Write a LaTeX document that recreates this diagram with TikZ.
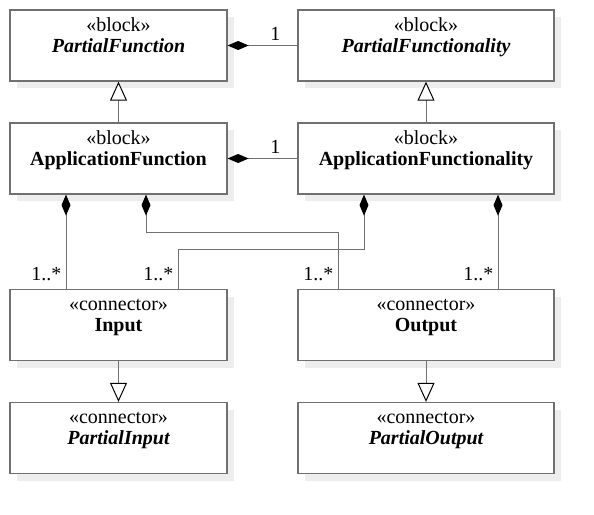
\documentclass[tikz,border=0pt]{standalone}
\usepackage{fontspec}
\setmainfont{Liberation Serif}
\usepackage{tikz}
\usetikzlibrary{arrows.meta,shadows,positioning}
\usepackage{xcolor}
\definecolor{linegray}{rgb}{0.44, 0.44, 0.44}
\definecolor{shadowgray}{rgb}{0.93, 0.93, 0.93}

\begin{document}
\begin{tikzpicture}[x=1pt,y=1pt]
	% Fix the canvas.
	\useasboundingbox (0,0) rectangle (594,-514);

	\tikzstyle{block}=[draw=linegray,line width=1.3pt,fill=white,inner sep=0,minimum height=71pt,
		drop shadow={shadow xshift=7pt,shadow yshift=-7pt,fill=shadowgray,opacity=1}]
	\tikzstyle{stereo}=[anchor=base,inner sep=0,font=\fontsize{20}{22}\selectfont]
	\tikzstyle{title}=[anchor=base,inner sep=0,font=\fontsize{20}{22}\selectfont\bfseries]
	\tikzstyle{mult}=[anchor=base,inner sep=0,font=\fontsize{20}{22}\selectfont]
	\tikzstyle{comp}=[draw=linegray,line width=1pt,-{Diamond[length=21pt,width=9pt,color=black]}]
	\tikzstyle{gen}=[draw=linegray,line width=1pt,-{Triangle[open,length=19pt,width=17pt,color=black,fill=white]}]

	% Draw the blocks.
	\node (pfun) [block, minimum width=217pt] at (118.5,-45.5) {};
	\node (pfun-s) [stereo] at ([yshift=-22pt]pfun.north) {«block»};
	\node (pfun-n) [title] at ([yshift=-43pt]pfun.north) {\itshape PartialFunction};

	\node (pfny) [block, minimum width=256pt] at (426,-45.5) {};
	\node (pfny-s) [stereo] at ([yshift=-22pt]pfny.north) {«block»};
	\node (pfny-n) [title] at ([yshift=-43pt]pfny.north) {\itshape PartialFunctionality};

	\node (afun) [block, minimum width=217pt] at (118.5,-158.5) {};
	\node (afun-s) [stereo] at ([yshift=-22pt]afun.north) {«block»};
	\node (afun-n) [title] at ([yshift=-43pt]afun.north) {ApplicationFunction};

	\node (afny) [block, minimum width=256pt] at (426,-158.5) {};
	\node (afny-s) [stereo] at ([yshift=-22pt]afny.north) {«block»};
	\node (afny-n) [title] at ([yshift=-43pt]afny.north) {ApplicationFunctionality};

	% Draw the connectors.
	\node (inp) [block, minimum width=217pt] at (118.5,-325) {};
	\node (inp-s) [stereo] at ([yshift=-22pt]inp.north) {«connector»};
	\node (inp-n) [title] at ([yshift=-43pt]inp.north) {Input};

	\node (outp) [block, minimum width=256pt] at (426,-325) {};
	\node (outp-s) [stereo] at ([yshift=-22pt]outp.north) {«connector»};
	\node (outp-n) [title] at ([yshift=-43pt]outp.north) {Output};

	\node (pinp) [block, minimum width=217pt] at (118.5,-438) {};
	\node (pinp-s) [stereo] at ([yshift=-22pt]pinp.north) {«connector»};
	\node (pinp-n) [title] at ([yshift=-43pt]pinp.north) {\itshape PartialInput};

	\node (poutp) [block, minimum width=256pt] at (426,-438) {};
	\node (poutp-s) [stereo] at ([yshift=-22pt]poutp.north) {«connector»};
	\node (poutp-n) [title] at ([yshift=-43pt]poutp.north) {\itshape PartialOutput};

	% Generalisations.
	\draw [gen] (afun.north) -- (pfun.south);
	\draw [gen] (afny.north) -- (pfny.south);
	\draw [gen] (inp.south) -- (pinp.north);
	\draw [gen] (outp.south) -- (poutp.north);

	% Compositions.
	\draw [comp] (pfny.west) -- (pfun.east);
	\node (m1) [mult] at ([xshift=-22pt,yshift=5pt]pfny.west) {1};
	\draw [comp] (afny.west) -- (afun.east);
	\node (m2) [mult] at ([xshift=-22pt,yshift=5pt]afny.west) {1};

	\draw [comp] ([xshift=-52.5pt]inp.north) -- ([xshift=-52.5pt]afun.south);
	\node (m3) [mult, anchor=base east] at ([xshift=-57pt,yshift=8pt]inp.north) {1..*};
	\draw [comp] ([xshift=-88pt]outp.north) -- ++(0,56) -| ([xshift=27.5pt]afun.south);
	\node (m4) [mult, anchor=base east] at ([xshift=-92.5pt,yshift=8pt]outp.north) {1..*};
	\draw [comp] ([xshift=59.5pt]inp.north) -- ++(0,39) -| ([xshift=-62pt]afny.south);
	\node (m5) [mult, anchor=base east] at ([xshift=55pt,yshift=8pt]inp.north) {1..*};
	\draw [comp] ([xshift=72pt]outp.north) -- ([xshift=72pt]afny.south);
	\node (m6) [mult, anchor=base east] at ([xshift=67.5pt,yshift=8pt]outp.north) {1..*};
\end{tikzpicture}
\end{document}
